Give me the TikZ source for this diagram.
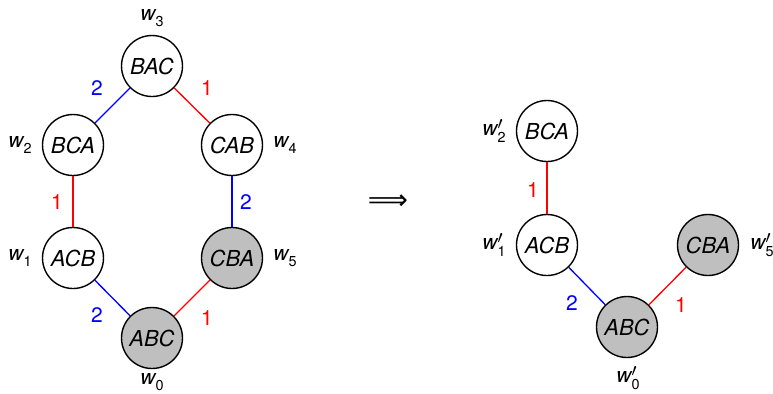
\documentclass[tikz,border=0pt]{standalone}
\usepackage{fontspec}
\setmainfont{TeX Gyre Heros}
\newfontfamily\djv{DejaVu Sans}
\newcommand{\wl}[1]{{\fontsize{10.5}{12}\selectfont\itshape w}\raisebox{-0.5ex}{\fontsize{7.2}{8}\selectfont #1}}
\newcommand{\wlp}[1]{{\fontsize{10.5}{12}\selectfont\itshape w}\rlap{\raisebox{0.55ex}{\fontsize{9}{10}\selectfont$\prime$}}\raisebox{-0.7ex}{\fontsize{7.2}{8}\selectfont #1}}
\tikzset{
  perm/.style={circle, draw=black, line width=0.7pt, minimum size=30.5pt, inner sep=0pt, font=\fontsize{11}{13}\selectfont\itshape},
  gperm/.style={perm, fill=gray!50},
  wlab/.style={inner sep=0pt},
  elab/.style={inner sep=0pt, font=\fontsize{10.5}{12}\selectfont},
  redge/.style={red, line width=0.65pt},
  bedge/.style={blue, line width=0.65pt},
}
\begin{document}
\begin{tikzpicture}[x=0.5pt, y=-0.5pt]
\useasboundingbox (0,0) rectangle (773,393);
% left graph
\node[perm]  (bac) at (152,66)  {BAC};
\node[perm]  (bca) at (73,145)  {BCA};
\node[perm]  (cab) at (232,145) {CAB};
\node[perm]  (acb) at (73,258)  {ACB};
\node[gperm] (cba) at (232,258) {CBA};
\node[gperm] (abc) at (152,338) {ABC};
\draw[bedge] (bca) -- (bac);
\draw[redge] (bac) -- (cab);
\draw[redge] (bca) -- (acb);
\draw[bedge] (cab) -- (cba);
\draw[bedge] (acb) -- (abc);
\draw[redge] (abc) -- (cba);
\node[wlab] (w3) at (152,18)  {\wl{3}};
\node[wlab] (w2) at (20,145)  {\wl{2}};
\node[wlab] (w4) at (285,145) {\wl{4}};
\node[wlab] (w1) at (20,258)  {\wl{1}};
\node[wlab] (w5) at (285,258) {\wl{5}};
\node[wlab] (w0) at (152,382) {\wl{0}};
\node[elab, blue] (e1) at (97,88)   {2};
\node[elab, red]  (e2) at (207,88)  {1};
\node[elab, red]  (e3) at (57,202)  {1};
\node[elab, blue] (e4) at (246,202) {2};
\node[elab, blue] (e5) at (97,315)  {2};
\node[elab, red]  (e6) at (207,318) {1};
% implication
\node[inner sep=0pt, font=\djv\fontsize{14}{16}\selectfont] (impl) at (388,202) {⟹};
% right graph
\node[perm]  (rbca) at (547,131) {BCA};
\node[perm]  (racb) at (547,245) {ACB};
\node[gperm] (rcba) at (708,245) {CBA};
\node[gperm] (rabc) at (627,327) {ABC};
\draw[redge] (rbca) -- (racb);
\draw[bedge] (racb) -- (rabc);
\draw[redge] (rabc) -- (rcba);
\node[wlab] (rw2) at (494,131) {\wlp{2}};
\node[wlab] (rw1) at (494,245) {\wlp{1}};
\node[wlab] (rw5) at (762,245) {\wlp{5}};
\node[wlab] (rw0) at (628,378) {\wlp{0}};
\node[elab, red]  (r1) at (533,190) {1};
\node[elab, blue] (r2) at (572,303) {2};
\node[elab, red]  (r3) at (681,305) {1};
\end{tikzpicture}
\end{document}
